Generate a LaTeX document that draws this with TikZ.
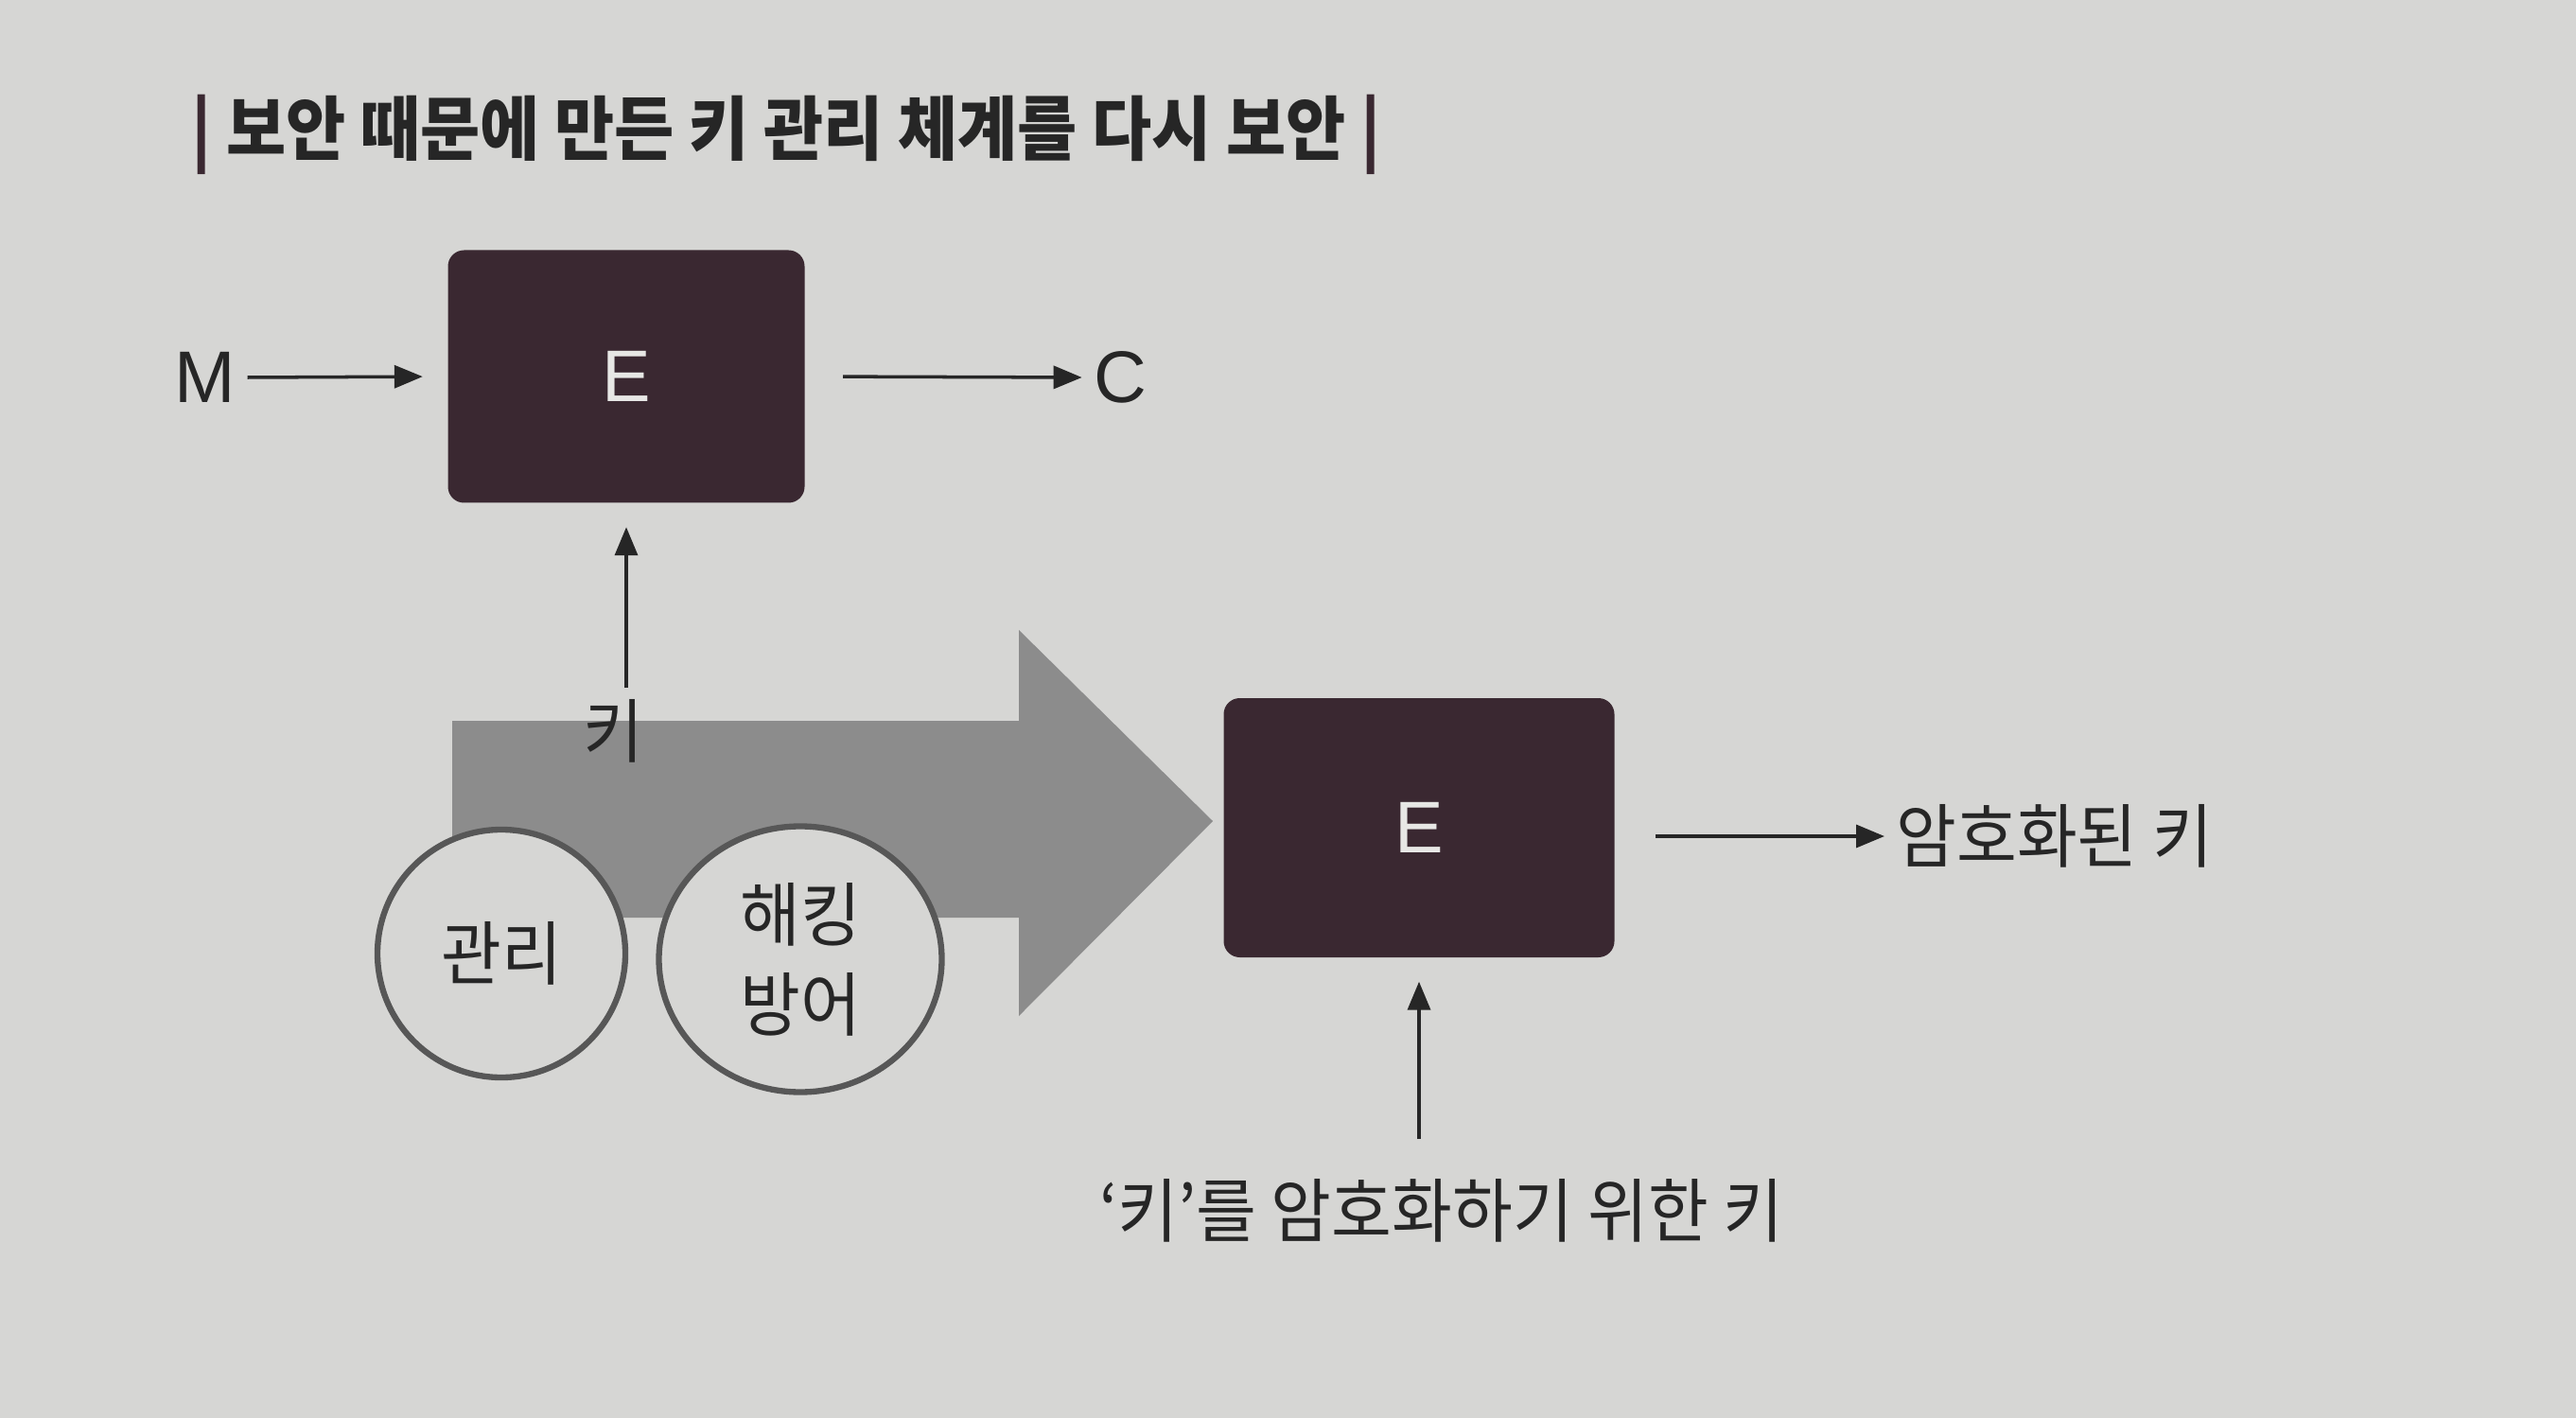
\documentclass[tikz,border=0pt]{standalone}
\usepackage{fontspec}
\newfontfamily\kr[FakeStretch=0.94]{Noto Sans CJK KR}
\newfontfamily\krtitle[FakeStretch=0.93]{Noto Sans CJK KR}
\newfontfamily\lat{Liberation Sans}
\usetikzlibrary{arrows.meta, shapes.geometric}
\definecolor{paper}{HTML}{D6D6D4}
\definecolor{plum}{HTML}{3A2831}
\definecolor{ink}{HTML}{262626}
\definecolor{halftone}{HTML}{8C8C8C}
\definecolor{ringgrey}{HTML}{575757}
\tikzset{>={Triangle[length=0.3cm, width=0.24cm]},
  ebox/.style={rectangle, rounded corners=0.17cm, fill=plum, text=paper!60!white, font=\lat\fontsize{22}{26}\selectfont},
  lbl/.style={text=ink, font=\kr\fontsize{21}{25}\selectfont},
  letter/.style={text=ink, font=\lat\fontsize{22}{26}\selectfont},
  keyring/.style={ellipse, draw=ringgrey, line width=1.8pt, fill=paper, align=center, text=ink, font=\kr\fontsize{21}{27}\selectfont, inner sep=0pt},
  conn/.style={->, line width=1pt, draw=ink}}

\begin{document}
\begin{tikzpicture}
\fill[paper] (0,0) rectangle (27.23,-14.99);
\useasboundingbox (0,0) rectangle (27.23,-14.99);

\node[lbl, anchor=west, font=\krtitle\bfseries\fontsize{21}{25}\selectfont] (title) at (1.90,-1.42) {{\color{plum}|} 보안 때문에 만든 키 관리 체계를 다시 보안 {\color{plum}|}};

%% upper row
\node[ebox, minimum width=3.77cm, minimum height=2.67cm] (E1) at (6.62,-3.98) {E};
\node[letter] (M) at (2.17,-3.99) {M};
\node[letter] (C) at (11.84,-3.99) {C};

%% the big arrow
\fill[halftone] (4.78,-7.62) -- (10.77,-7.62) -- (10.77,-6.66) -- (12.82,-8.68)
  -- (10.77,-10.74) -- (10.77,-9.70) -- (4.78,-9.70) -- cycle;
\node[lbl] (key) at (6.48,-7.73) {키};

\node[keyring, minimum width=2.62cm, minimum height=2.62cm] (mgmt) at (5.30,-10.08) {관리};
\node[keyring, minimum width=2.99cm, minimum height=2.81cm] (guard) at (8.46,-10.14) {해킹\\방어};

%% lower row
\node[ebox, minimum width=4.13cm, minimum height=2.74cm] (E2) at (15.00,-8.75) {E};
\node[lbl, anchor=west] (enc) at (19.92,-8.84) {암호화된 키};
\node[lbl] (kek) at (15.24,-12.80) {‘키’를 암호화하기 위한 키};

\draw[conn, shorten >=0.26cm] (M.east) -- (E1.west);
\draw[conn, shorten <=0.40cm] (E1.east) -- (C.west);
\draw[conn, shorten >=0.25cm] (E1.south |- key.north) -- (E1.south);
\draw[conn, shorten <=0.43cm] (E2.east |- enc.west) -- (enc.west);
\draw[conn, shorten <=0.30cm, shorten >=0.25cm] (E2.south |- kek.north) -- (E2.south);
\end{tikzpicture}
\end{document}
